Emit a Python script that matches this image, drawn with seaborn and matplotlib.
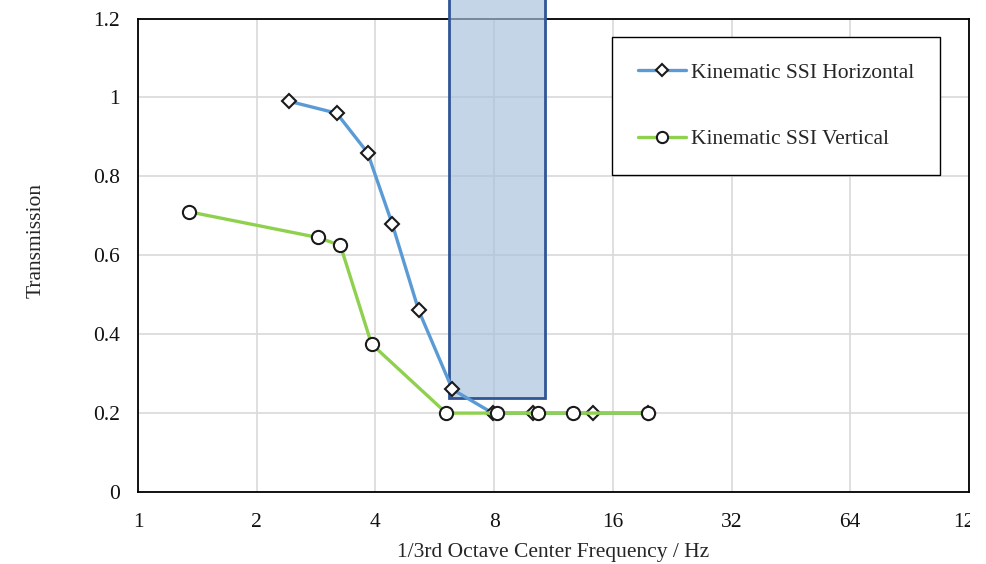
import matplotlib
matplotlib.use("Agg")
import matplotlib.pyplot as plt
from matplotlib.patches import Rectangle
from matplotlib.transforms import Bbox, TransformedBbox
from matplotlib.colors import to_rgba
import seaborn as sns
import pandas as pd

# Kinematic SSI transmission ratios per 1/3rd octave centre frequency
horiz_freq = [2.42, 3.19, 3.82, 4.41, 5.15, 6.27, 7.93, 10.06, 14.26, 19.66]
horiz_trans = [0.99, 0.96, 0.86, 0.68, 0.46, 0.26, 0.20, 0.20, 0.20, 0.20]

vert_freq = [1.35, 2.86, 3.26, 3.91, 6.05, 8.12, 10.31, 12.7, 19.66]
vert_trans = [0.71, 0.645, 0.625, 0.375, 0.20, 0.20, 0.20, 0.20, 0.20]

series_names = ["Kinematic SSI Horizontal", "Kinematic SSI Vertical"]

# Highlighted frequency band
band_lo, band_hi, band_floor = 6.15, 10.75, 0.237

x_ticks = [1, 2, 4, 8, 16, 32, 64, 128]
x_tick_labels = ["1", "2", "4", "8", "16", "32", "64", "128"]
y_ticks = [0, 0.2, 0.4, 0.6, 0.8, 1.0, 1.2]
y_tick_labels = ["0", "0.2", "0.4", "0.6", "0.8", "1", "1.2"]

sns.set_theme(style="white")
plt.rcParams["font.family"] = ["Liberation Serif", "DejaVu Serif"]
plt.rcParams["font.size"] = 15.5

W, H = 987, 564
fig = plt.figure(figsize=(W / 100, H / 100), dpi=100)
ax = fig.add_axes([138 / W, (H - 492) / H, (969 - 138) / W, (492 - 18.5) / H])

df_h = pd.DataFrame({"freq": horiz_freq, "trans": horiz_trans})
df_v = pd.DataFrame({"freq": vert_freq, "trans": vert_trans})

sns.lineplot(data=df_h, x="freq", y="trans", ax=ax, color="#5b9bd5",
             linewidth=2.4, marker="D", markersize=7.5, markerfacecolor="white",
             markeredgecolor="#1a1a1a", markeredgewidth=1.5, estimator=None,
             sort=False, legend=False, zorder=4)
sns.lineplot(data=df_v, x="freq", y="trans", ax=ax, color="#8fd14f",
             linewidth=2.4, marker="o", markersize=9.5, markerfacecolor="white",
             markeredgecolor="#1a1a1a", markeredgewidth=1.5, estimator=None,
             sort=False, legend=False, zorder=5)

ax.set_xscale("log", base=2)
ax.set_xlim(1, 128)
ax.set_ylim(0, 1.2)
ax.set_xticks(x_ticks)
ax.set_xticklabels(x_tick_labels)
ax.minorticks_off()
ax.set_yticks(y_ticks)
ax.set_yticklabels(y_tick_labels)
ax.tick_params(axis="x", length=0, pad=15, labelsize=15.5, colors="#111111")
ax.tick_params(axis="y", length=0, pad=13, labelsize=15.5, colors="#111111")

ax.grid(True, color="#d9d9d9", linewidth=1.2)
ax.set_axisbelow(True)
for sp in ax.spines.values():
    sp.set_color("black")
    sp.set_linewidth(1.3)
    sp.set_visible(True)

# Shaded band, extends above the plot frame
band = Rectangle((band_lo, band_floor), band_hi - band_lo, 1.6,
                 facecolor=to_rgba("#a9c1dc", 0.68), edgecolor="#2f5597",
                 linewidth=2.0, zorder=3, clip_on=False)
ax.add_patch(band)

ax.set_xlabel("1/3rd Octave Center Frequency / Hz", fontsize=15.5)
ax.set_ylabel("Transmission", fontsize=15.5)
ax.xaxis.set_label_coords(0.5, -0.108)
ax.yaxis.set_label_coords(-0.111, 0.532)

lines = ax.get_lines()
leg = ax.legend(lines[:2], series_names, loc="upper left",
                bbox_to_anchor=((612 - 138) / (969 - 138), (492 - 37) / (492 - 18.5)),
                frameon=True, fancybox=False, edgecolor="black", framealpha=1,
                borderpad=1.2, labelspacing=2.15, handlelength=2.25,
                handletextpad=0.2, markerscale=0.85, fontsize=15.5,
                borderaxespad=0)
leg.get_frame().set_linewidth(1.0)
leg.set_zorder(6)

fig.canvas.draw()
clip = TransformedBbox(Bbox([[0, 0], [970 / W, 1]]), fig.transFigure)
for lbl in ax.get_xticklabels():
    lbl.set_clip_on(True)
    lbl.set_clip_box(clip)

fig.savefig("out.png", dpi=100)
